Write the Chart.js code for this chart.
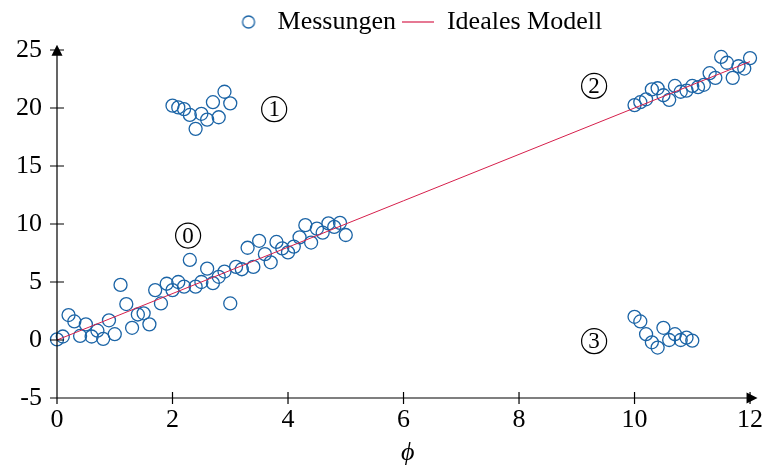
<!DOCTYPE html>
<html>
<head>
<meta charset="utf-8">
<script src="https://cdn.jsdelivr.net/npm/chart.js@4.4.1/dist/chart.umd.min.js"></script>
<style>
  html, body { margin: 0; padding: 0; background: #fff; }
  #wrap { width: 768px; height: 469px; }
</style>
</head>
<body>
<div id="wrap"><canvas id="chart"></canvas></div>
<script>
const FONT = "'Liberation Serif', 'DejaVu Serif', serif";
const BLUE = '#1b64a6';
const RED = '#d61f4b';

// group 0: along the model
const x0 = [0.0, 0.1, 0.2, 0.3, 0.4, 0.5, 0.6, 0.7, 0.8, 0.9,
            1.0, 1.1, 1.2, 1.3, 1.4, 1.5, 1.6, 1.7, 1.8, 1.9,
            2.0, 2.1, 2.2, 2.3, 2.4, 2.5, 2.6, 2.7, 2.8, 2.9,
            3.0, 3.1, 3.2, 3.3, 3.4, 3.5, 3.6, 3.7, 3.8, 3.9,
            4.0, 4.1, 4.2, 4.3, 4.4, 4.5, 4.6, 4.7, 4.8, 4.9, 5.0];
const y0 = [0.05, 0.3, 2.15, 1.6, 0.35, 1.35, 0.3, 0.8, 0.1, 1.7,
            0.5, 4.75, 3.1, 1.05, 2.2, 2.3, 1.35, 4.3, 3.15, 4.85,
            4.3, 5.0, 4.6, 6.9, 4.6, 5.0, 6.15, 4.9, 5.45, 5.9,
            3.15, 6.3, 6.1, 7.95, 6.3, 8.55, 7.4, 6.7, 8.45, 7.9,
            7.55, 8.05, 8.85, 9.9, 8.4, 9.6, 9.25, 10.05, 9.75, 10.1, 9.05];

// group 1: outliers up high
const x1 = [2.0, 2.1, 2.2, 2.3, 2.4, 2.5, 2.6, 2.7, 2.8, 2.9, 3.0];
const y1 = [20.2, 20.05, 19.9, 19.4, 18.2, 19.5, 19.0, 20.5, 19.2, 21.4, 20.4];

// group 2: along the model, right end
const x2 = [10.0, 10.1, 10.2, 10.3, 10.4, 10.5, 10.6, 10.7, 10.8, 10.9,
            11.0, 11.1, 11.2, 11.3, 11.4, 11.5, 11.6, 11.7, 11.8, 11.9, 12.0];
const y2 = [20.25, 20.5, 20.75, 21.6, 21.7, 21.1, 20.7, 21.9, 21.4, 21.5,
            21.9, 21.8, 22.0, 23.0, 22.6, 24.4, 23.9, 22.6, 23.6, 23.4, 24.3];

// group 3: outliers near zero
const x3 = [10.0, 10.1, 10.2, 10.3, 10.4, 10.5, 10.6, 10.7, 10.8, 10.9, 11.0];
const y3 = [2.0, 1.6, 0.5, -0.2, -0.65, 1.05, 0.0, 0.5, 0.0, 0.2, -0.05];

// ideal model
const modelX = [0, 12];
const modelY = [0, 24];

const xTicks = [0, 2, 4, 6, 8, 10, 12];
const yTicks = [-5, 0, 5, 10, 15, 20, 25];

// circled group numbers
const markText = ['0', '1', '2', '3'];
const markX = [2.27, 3.76, 9.3, 9.3];
const markY = [9.0, 19.9, 21.9, -0.1];

function pts(xs, ys) {
    return xs.map((x, i) => ({ x: x, y: ys[i] }));
}
const measured = [].concat(pts(x0, y0), pts(x1, y1), pts(x2, y2), pts(x3, y3));

// legend symbols
function circleIcon() {
    const c = document.createElement('canvas');
    c.width = 16; c.height = 16;
    const g = c.getContext('2d');
    g.strokeStyle = BLUE;
    g.lineWidth = 1.3;
    g.beginPath();
    g.arc(8, 8, 6, 0, Math.PI * 2);
    g.stroke();
    return c;
}
function lineIcon() {
    const c = document.createElement('canvas');
    c.width = 32; c.height = 4;
    const g = c.getContext('2d');
    g.strokeStyle = RED;
    g.lineWidth = 1.2;
    g.beginPath();
    g.moveTo(0, 2);
    g.lineTo(32, 2);
    g.stroke();
    return c;
}
const icons = [circleIcon(), lineIcon()];

// legend sits centred over the plot, a bit right of the page centre
const legendShift = {
    id: 'legendShift',
    afterLayout(chart) {
        if (chart.legend) {
            chart.legend.left += 38;
            chart.legend.right += 38;
        }
    }
};

const axesPlugin = {
    id: 'axes',
    afterDraw(chart) {
        const { ctx, scales: { x, y } } = chart;
        const ox = x.getPixelForValue(0);
        const oy = y.getPixelForValue(-5);
        const xEnd = x.getPixelForValue(12.13);
        const yEnd = y.getPixelForValue(25.45);
        ctx.save();
        ctx.strokeStyle = '#000';
        ctx.fillStyle = '#000';
        ctx.lineWidth = 1.2;
        ctx.beginPath();
        ctx.moveTo(ox, oy); ctx.lineTo(xEnd - 6, oy);
        ctx.moveTo(ox, oy); ctx.lineTo(ox, yEnd + 6);
        xTicks.forEach(v => {
            const px = x.getPixelForValue(v);
            ctx.moveTo(px, oy - 6); ctx.lineTo(px, oy + 6);
        });
        yTicks.forEach(v => {
            const py = y.getPixelForValue(v);
            ctx.moveTo(ox - 7, py); ctx.lineTo(ox + 7, py);
        });
        ctx.stroke();
        // arrow heads
        ctx.beginPath();
        ctx.moveTo(xEnd, oy); ctx.lineTo(xEnd - 11, oy - 5.5); ctx.lineTo(xEnd - 11, oy + 5.5);
        ctx.closePath();
        ctx.moveTo(ox, yEnd); ctx.lineTo(ox - 5.5, yEnd + 11); ctx.lineTo(ox + 5.5, yEnd + 11);
        ctx.closePath();
        ctx.fill();
        // circled numbers
        ctx.font = '23px ' + FONT;
        ctx.textAlign = 'center';
        ctx.textBaseline = 'middle';
        markText.forEach((t, i) => {
            const cx = x.getPixelForValue(markX[i]);
            const cy = y.getPixelForValue(markY[i]);
            ctx.beginPath();
            ctx.arc(cx, cy, 12.5, 0, Math.PI * 2);
            ctx.stroke();
            ctx.fillText(t, cx, cy + 1);
        });
        ctx.restore();
    }
};

const ctx = document.getElementById('chart').getContext('2d');
new Chart(ctx, {
    type: 'scatter',
    data: {
        datasets: [{
            label: 'Messungen',
            data: measured,
            showLine: false,
            pointStyle: 'circle',
            pointRadius: 6.5,
            pointHoverRadius: 6.5,
            borderColor: BLUE,
            backgroundColor: 'rgba(0,0,0,0)',
            borderWidth: 1.3,
            clip: false,
            order: 1
        }, {
            label: 'Ideales Modell',
            data: pts(modelX, modelY),
            showLine: true,
            borderColor: RED,
            backgroundColor: RED,
            borderWidth: 1,
            pointRadius: 0,
            clip: false,
            order: 0
        }]
    },
    options: {
        responsive: true,
        maintainAspectRatio: false,
        animation: false,
        layout: {
            padding: { left: 0, right: 9.3, top: 3, bottom: 0 }
        },
        plugins: {
            tooltip: { enabled: false },
            legend: {
                labels: {
                    font: { family: FONT, size: 26 },
                    color: '#000',
                    usePointStyle: true,
                    pointStyleWidth: 32,
                    padding: 6,
                    generateLabels(chart) {
                        const items = Chart.defaults.plugins.legend.labels.generateLabels(chart);
                        items.sort((a, b) => a.datasetIndex - b.datasetIndex);
                        items.forEach(it => { it.pointStyle = icons[it.datasetIndex]; });
                        return items;
                    }
                }
            }
        },
        scales: {
            x: {
                type: 'linear',
                min: 0,
                max: 12.15,
                afterBuildTicks(s) { s.ticks = xTicks.map(v => ({ value: v })); },
                afterFit(s) { s.height = 71; },
                grid: { display: false },
                border: { display: false },
                ticks: {
                    font: { family: FONT, size: 26 },
                    color: '#000',
                    padding: -1,
                    maxRotation: 0
                },
                title: {
                    display: true,
                    text: 'ϕ',
                    font: { family: FONT, size: 26, style: 'italic' },
                    color: '#000',
                    padding: { top: 0, bottom: 0 }
                }
            },
            y: {
                type: 'linear',
                min: -5,
                max: 25.43,
                afterBuildTicks(s) { s.ticks = yTicks.map(v => ({ value: v })); },
                afterFit(s) { s.width = 57; },
                grid: { display: false },
                border: { display: false },
                ticks: {
                    font: { family: FONT, size: 26 },
                    color: '#000',
                    padding: 7
                }
            }
        }
    },
    plugins: [legendShift, axesPlugin]
});
</script>
</body>
</html>
